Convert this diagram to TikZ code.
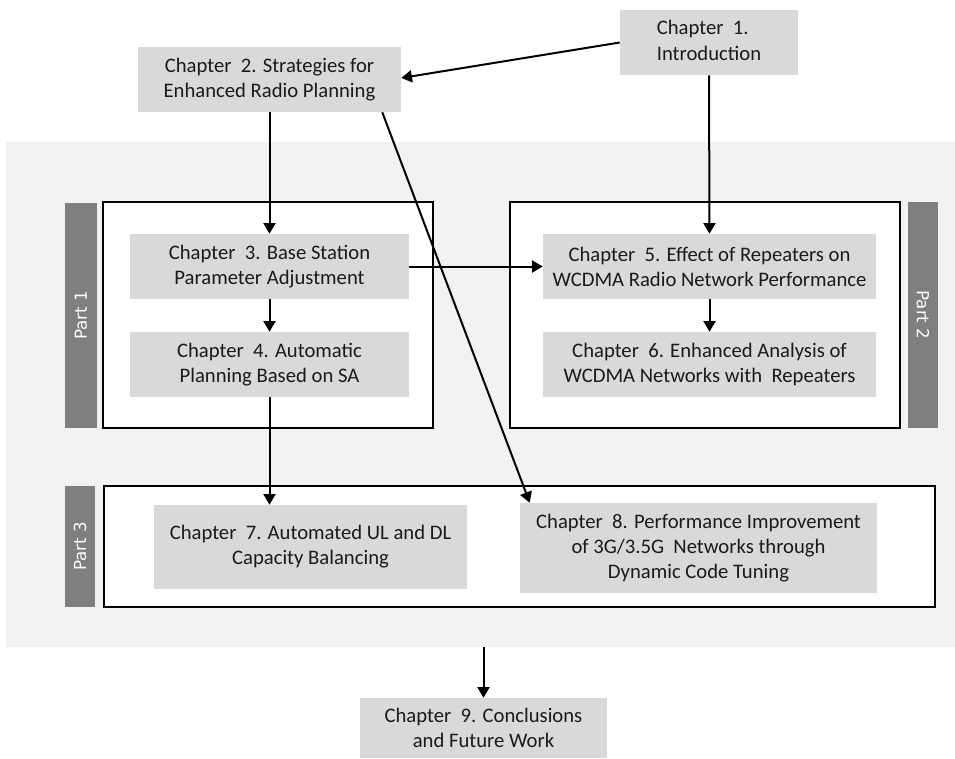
\documentclass[tikz,border=0pt]{standalone}
\usepackage{fontspec}
\setmainfont{Carlito}
\newfontfamily\partfont{DejaVu Sans}
\usetikzlibrary{arrows.meta,calc}
\definecolor{bgc}{HTML}{F2F2F2}
\definecolor{boxc}{HTML}{D9D9D9}
\definecolor{barc}{HTML}{7F7F7F}
\definecolor{txtc}{HTML}{1A1A1A}
\begin{document}
\begin{tikzpicture}[x=0.75pt,y=-0.75pt,
  chbox/.style 2 args={fill=boxc, inner sep=0pt, minimum width=#1*0.75pt, minimum height=#2*0.75pt,
     align=center, text=txtc, font=\fontsize{15.5pt}{18.8pt}\selectfont},
  partbar/.style 2 args={fill=barc, inner sep=0pt, minimum width=#1*0.75pt, minimum height=#2*0.75pt,
     text=white, font=\partfont\fontsize{12.5pt}{14pt}\selectfont},
  frame/.style 2 args={draw=black, fill=white, line width=1.7pt, inner sep=0pt,
     minimum width=#1*0.75pt, minimum height=#2*0.75pt},
  arr/.style={line width=1.5pt, -{Triangle[length=8pt,width=9pt]}}]
\useasboundingbox (0,0) rectangle (955,758);
% background
\node[fill=bgc, inner sep=0pt, minimum width=949*0.75pt, minimum height=505*0.75pt] (bg) at (480.5,394.5) {};
% frames
\node[frame={330}{226}] (f1) at (268,315) {};
\node[frame={390}{226}] (f2) at (705,315) {};
\node[frame={831}{121}] (f3) at (519.5,546.5) {};
% part bars
\node[partbar={225}{32}, rotate=90] (p1) at (81,315.5) {Part 1};
\node[partbar={226}{30}, rotate=-90] (p2) at (923,315) {Part 2};
\node[partbar={121}{30}, rotate=90] (p3) at (80,546.5) {Part 3};
% chapter boxes
\node[chbox={178}{65}] (ch1) at (709,42.5) {\begin{tabular}{@{}l@{}}Chapter~~1.\\Introduction\end{tabular}};
\node[chbox={263}{65}] (ch2) at (269.5,79.5) {Chapter~~2. Strategies for\\ Enhanced Radio Planning};
\node[chbox={279}{65}] (ch3) at (269.5,266.5) {Chapter~~3. Base Station\\ Parameter Adjustment};
\node[chbox={279}{65}] (ch4) at (269.5,364.5) {Chapter~~4. Automatic\\ Planning Based on SA};
\node[chbox={333}{65}] (ch5) at (709.5,266.5) {Chapter~~5. Effect of Repeaters on\\ WCDMA Radio Network Performance};
\node[chbox={333}{65}] (ch6) at (709.5,364.5) {Chapter~~6. Enhanced Analysis of\\ WCDMA Networks with~~Repeaters};
\node[chbox={313}{84}] (ch7) at (310.5,547) {Chapter~~7. Automated UL and DL\\ Capacity Balancing};
\node[chbox={357}{90}] (ch8) at (698.5,548) {Chapter~~8. Performance Improvement\\ of 3G/3.5G~~Networks through\\ Dynamic Code Tuning};
\node[chbox={247}{60}] (ch9) at (483.5,728) {Chapter~~9. Conclusions\\ and Future Work};
% connectors
\draw[arr] (ch1.west) -- ($(ch2.east)+(0,-1.5)$);
\draw[arr] (ch1.south) -- (ch5.north);
\draw[arr] (ch2.south) -- (ch3.north);
\draw[arr] (ch3.east) -- (ch5.west);
\draw[arr] (ch3.south) -- (ch4.north);
\draw[arr] (ch5.south) -- (ch6.north);
\draw[arr] (ch4.south) -- (ch4.south |- ch7.north);
\draw[arr] ($(ch2.south east)+(-19,0)$) -- ($(ch8.north west)+(10,0)$);
\draw[arr] (bg.south -| ch9.north) -- (ch9.north);
\end{tikzpicture}
\end{document}
